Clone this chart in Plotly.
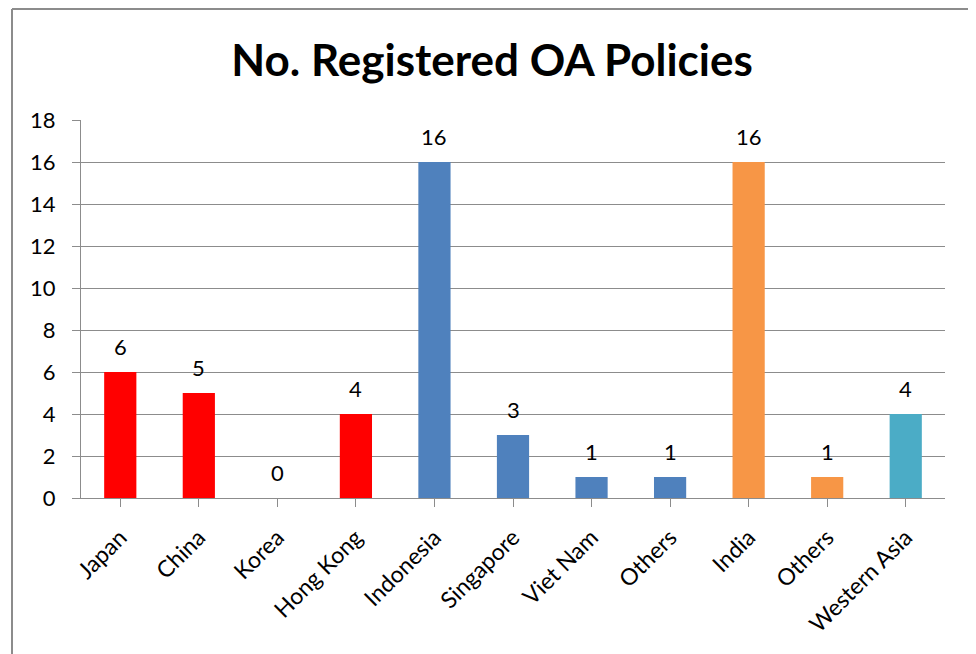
import plotly.graph_objects as go

categories = ["Japan", "China", "Korea", "Hong Kong", "Indonesia", "Singapore",
              "Viet Nam", "Others", "India", "Others", "Western Asia"]
values = [6, 5, 0, 4, 16, 3, 1, 1, 16, 1, 4]
bar_colors = ["#FF0000", "#FF0000", "#FF0000", "#FF0000",
              "#4F81BD", "#4F81BD", "#4F81BD", "#4F81BD",
              "#F79646", "#F79646", "#4BACC6"]
y_ticks = [0, 2, 4, 6, 8, 10, 12, 14, 16, 18]

x_idx = list(range(len(categories)))
FONT = "Lato, 'Open Sans', sans-serif"

fig = go.Figure()
fig.add_trace(go.Bar(
    x=x_idx, y=values,
    marker=dict(color=bar_colors, line=dict(width=0)),
    width=0.41,
    hoverinfo="x+y",
))

annotations = []
for xi, v in zip(x_idx, values):
    annotations.append(dict(x=xi, y=v, xref="x", yref="y", text=str(v),
                            showarrow=False, yanchor="bottom", yshift=10,
                            font=dict(family=FONT, size=22, color="#000")))

border = "#8c8c8c"
bx0, bx1 = (12 - 81) / 864, (972 - 81) / 864
by0, by1 = (498 - 700) / 378, (498 - 9) / 378

fig.update_layout(
    width=976, height=654,
    margin=dict(l=73, r=39, t=112, b=164),
    paper_bgcolor="white", plot_bgcolor="white",
    showlegend=False,
    title=dict(text="<b>No. Registered OA Policies</b>", x=0.496, xanchor="center",
               xref="container",
               y=0.919, yanchor="middle",
               font=dict(family=FONT, size=44, color="#000")),
    annotations=annotations,
    xaxis=dict(
        tickmode="array", tickvals=x_idx, ticktext=categories,
        range=[-0.5, len(categories) - 0.5],
        tickangle=-45,
        tickfont=dict(family=FONT, size=23, color="#000"),
        ticklabelstandoff=8,
        showline=True, linecolor="#8c8c8c", linewidth=1,
        ticks="outside", ticklen=8, tickcolor="#8c8c8c",
        showgrid=False, zeroline=False,
    ),
    yaxis=dict(
        range=[0, 18], tickvals=y_ticks,
        tickfont=dict(family=FONT, size=22, color="#000"),
        ticklabelstandoff=12,
        showline=True, linecolor="#8c8c8c", linewidth=1,
        ticks="outside", ticklen=8, tickcolor="#8c8c8c",
        showgrid=True, gridcolor="#8c8c8c", gridwidth=1,
        zeroline=False,
    ),
    shapes=[
        dict(type="line", xref="paper", yref="paper", x0=bx0, x1=bx1, y0=by1, y1=by1,
             line=dict(color=border, width=2), layer="above"),
        dict(type="line", xref="paper", yref="paper", x0=bx0, x1=bx0, y0=by0, y1=by1,
             line=dict(color=border, width=2), layer="above"),
        dict(type="line", xref="paper", yref="paper", x0=bx1, x1=bx1, y0=by0, y1=by1,
             line=dict(color=border, width=2), layer="above"),
    ],
)

fig.write_html("out.html")
